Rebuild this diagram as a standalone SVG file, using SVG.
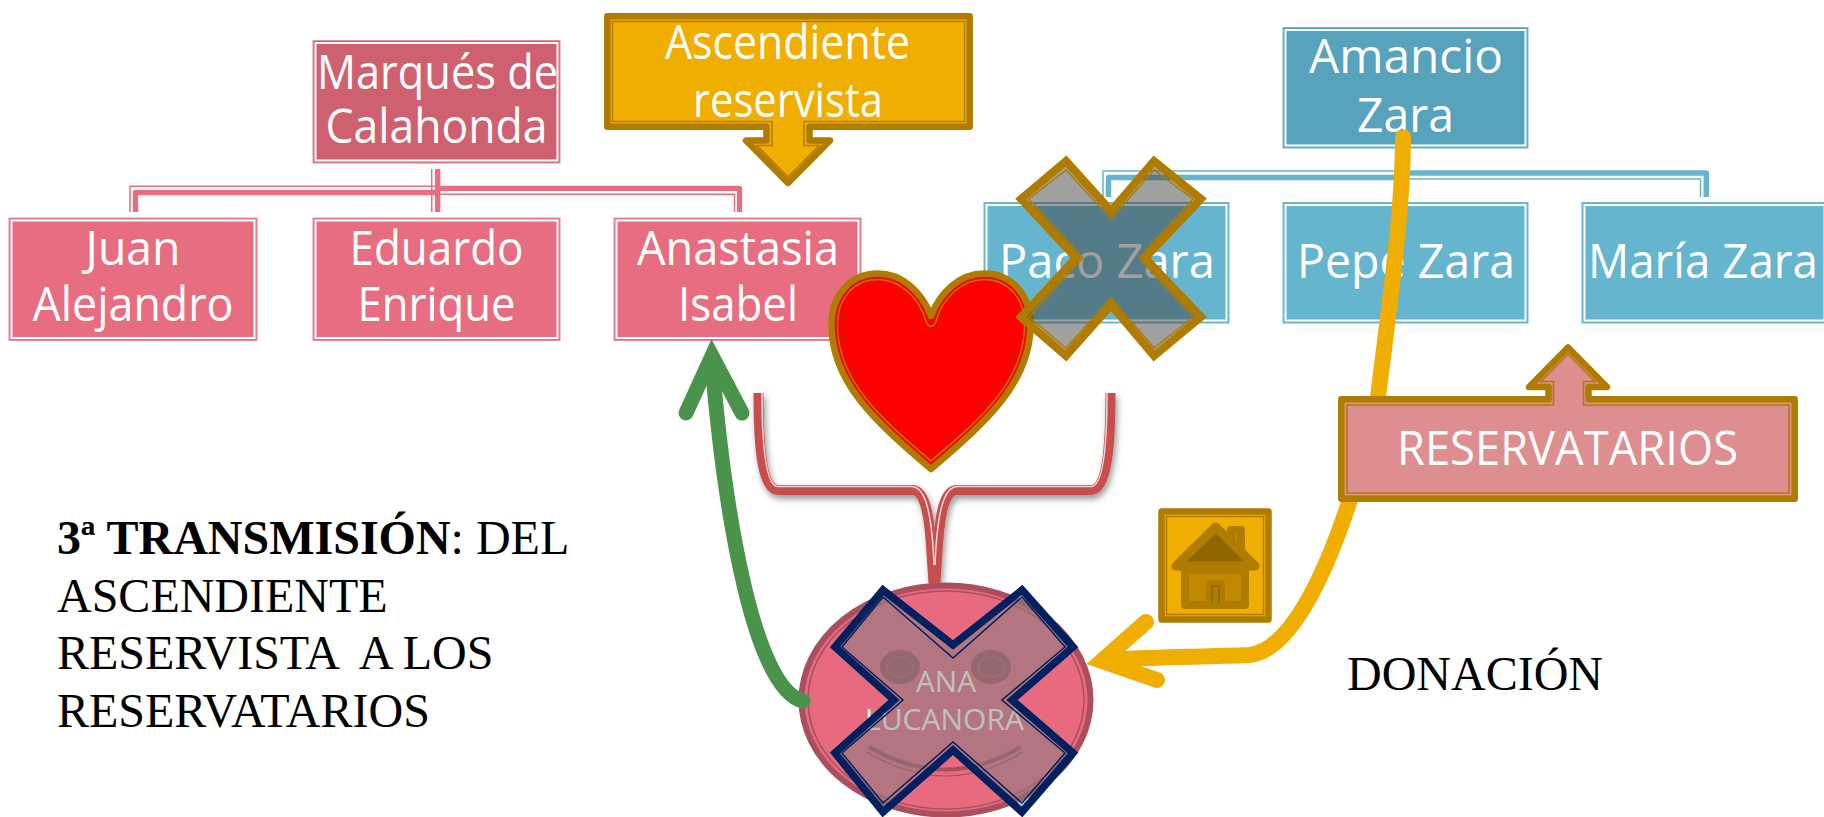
<svg xmlns="http://www.w3.org/2000/svg" width="1824" height="817" viewBox="0 0 1824 817">
<style>
text{font-family:"Open Sans","Noto Sans",sans-serif;fill:#fff;text-anchor:middle;font-size:47px}
.serif{font-family:"Liberation Serif",serif;fill:#000;text-anchor:start;font-size:48px;white-space:pre}
.band{stroke:#b07c00;stroke-width:6.500;stroke-linejoin:round}
.thin{fill:none;stroke:#b07c00;stroke-width:1.500}
.rim{fill:none;stroke:#fff;stroke-width:2}
.pk{fill:#e76d80;stroke:#e98a9a;stroke-width:1}
.bl{fill:#65b5cf;stroke:#6cb7cf;stroke-width:1}
.nv{fill:none;stroke:#00205f}
.line{fill:none;stroke-linecap:round}
</style>
<defs>
<filter id="sh" x="-10%" y="-10%" width="120%" height="130%"><feDropShadow dx="2" dy="4" stdDeviation="3" flood-color="#000" flood-opacity="0.4"/></filter>
</defs>
<rect width="1824" height="817" fill="#fff"/>
<g id="connectors-tree" fill="none" stroke-linejoin="round">
<g stroke="#e76d80">
<path stroke-width="5.300" d="M436,192.500H135.500V212M436,188.300H739.500V212M437.700,169V212"/>
<path stroke-width="1.500" d="M436,186.300H130V212M436,194.300H734.500V212M431.700,169V212"/>
</g>
<g stroke="#65b5cf">
<path stroke-width="5.500" d="M1405,177.500H1108.500V197M1405,173H1706.300V197"/>
<path stroke-width="1.500" d="M1405,171H1103V197M1405,179H1700.500V197"/>
</g>
</g>
<g id="n-marques"><rect class="pk" x="313" y="40.500" width="247" height="122.500" style="fill:#cf6070"/><rect class="rim" x="315.500" y="43" width="242" height="117.500"/><text x="437.500" y="89" textLength="241" lengthAdjust="spacingAndGlyphs">Marqués de</text><text x="436.500" y="143" textLength="222" lengthAdjust="spacingAndGlyphs">Calahonda</text></g>
<g id="n-juan"><rect class="pk" x="9" y="218" width="248" height="122.500"/><rect class="rim" x="11.500" y="220.500" width="243" height="117.500"/><text x="133" y="265" textLength="95" lengthAdjust="spacingAndGlyphs">Juan</text><text x="133" y="321" textLength="201" lengthAdjust="spacingAndGlyphs">Alejandro</text></g>
<g id="n-eduardo"><rect class="pk" x="313" y="218" width="247" height="122.500"/><rect class="rim" x="315.500" y="220.500" width="242" height="117.500"/><text x="436.500" y="265" textLength="174" lengthAdjust="spacingAndGlyphs">Eduardo</text><text x="436.500" y="321" textLength="158" lengthAdjust="spacingAndGlyphs">Enrique</text></g>
<g id="n-anastasia"><rect class="pk" x="614" y="218" width="247" height="122.500"/><rect class="rim" x="616.500" y="220.500" width="242" height="117.500"/><text x="738" y="265" textLength="202" lengthAdjust="spacingAndGlyphs">Anastasia</text><text x="738" y="321" textLength="120" lengthAdjust="spacingAndGlyphs">Isabel</text></g>
<g id="n-amancio"><rect class="bl" x="1283" y="27.500" width="245" height="120.500" style="fill:#57a3bb"/><rect class="rim" x="1285.500" y="30" width="240" height="115.500"/><text x="1406" y="73" textLength="194" lengthAdjust="spacingAndGlyphs">Amancio</text><text x="1405.500" y="132" textLength="97" lengthAdjust="spacingAndGlyphs">Zara</text></g>
<g id="n-paco"><rect class="bl" x="984" y="202.500" width="245" height="120.500"/><rect class="rim" x="986.500" y="205" width="240" height="115.500"/><text x="1107" y="278" textLength="216" lengthAdjust="spacingAndGlyphs">Paco Zara</text></g>
<g id="n-pepe"><rect class="bl" x="1283" y="202.500" width="245" height="120.500"/><rect class="rim" x="1285.500" y="205" width="240" height="115.500"/><text x="1406" y="278" textLength="218" lengthAdjust="spacingAndGlyphs">Pepe Zara</text></g>
<g id="n-maria"><rect class="bl" x="1582" y="202.500" width="245" height="120.500"/><rect class="rim" x="1584.500" y="205" width="240" height="115.500"/><text x="1703" y="278" textLength="230" lengthAdjust="spacingAndGlyphs">María Zara</text></g>
<g id="n-ascendiente">
<path class="band" fill="#f0ae00" d="M607.300,16.300H969.700V126.700H809.500V140.500H830L788,183L746,140.500H766.500V126.700H607.300Z"/>
<path class="thin" d="M612.500,21.500H964.500V121.500H804V145.500H819L788,177L757,145.500H772V121.500H612.500Z"/>
<text x="787.500" y="59" textLength="245" lengthAdjust="spacingAndGlyphs">Ascendiente</text><text x="788" y="117" textLength="190" lengthAdjust="spacingAndGlyphs">reservista</text>
</g>
<g id="connectors-bracket" fill="none">
<g filter="url(#sh)" stroke="#c84d4d" stroke-width="10"><path d="M758.500,393C758.500,440 761,490 778,490H912C925,490 929,515 931,545L933.500,583"/><path d="M1110.500,393C1110.500,440 1108,490 1091,490H957C944,490 940,515 938,545L935.500,583"/></g>
<path d="M762,393C762,440 765,486.500 778,486.500H912C926,487 932,515 934,565" stroke="#f0d8d8" stroke-width="1.500"/>
<path d="M1107,393C1107,440 1104,486.500 1091,486.500H957C943,487 937,515 935,565" stroke="#f0d8d8" stroke-width="1.500"/>
</g>
<g id="n-heart">
<path class="band" fill="#f00" d="M931,469C880,425 831.500,385 831.500,325C831.500,295 850,273.500 878,273.500C902,273.500 922,292 931,316C940,292 960,273.500 984,273.500C1012,273.500 1030.500,295 1030.500,325C1030.500,385 982,425 931,469Z"/>
<path class="thin" d="M931,461C883,420 837.500,382 837.500,325C837.500,298 854,279.500 878,279.500C899,279.500 919,297 926,321C928,328 934,328 936,321C943,297 963,279.500 984,279.500C1008,279.500 1024.500,298 1024.500,325C1024.500,382 979,420 931,461Z"/>
</g>
<g id="n-cross-paco">
<path class="band" fill="#414141" fill-opacity="0.5" style="stroke-linejoin:miter;stroke-width:8px" d="M1066,161L1111,211L1154,161L1201,199L1145,258L1201,317L1154,356L1111,305L1066,356L1021,317L1076,258L1021,199Z"/>
<path class="thin" d="M1066,170L1111,219L1154,170L1193,199L1139,258L1193,317L1154,348L1111,298L1066,348L1029,317L1083,258L1029,199Z"/>
</g>
<g id="connector-orange-line">
<path class="line" stroke="#f0ae00" stroke-width="16" d="M1403,137C1403,210 1390,300 1378,397C1352,510 1305,650 1249,655C1200,657 1150,657 1105,660"/>
</g>
<g id="n-reservatarios">
<path class="band" fill="#de8e8f" d="M1341.300,399.300H1548.500V387H1529L1568,347.500L1607,387H1588.500V399.300H1794.700V498.700H1341.300Z"/>
<path class="thin" d="M1347,405H1553.500V381.500H1541L1568,354L1595,381.500H1583.500V405H1789V493H1347Z"/>
<text x="1567.500" y="465" textLength="341" lengthAdjust="spacingAndGlyphs">RESERVATARIOS</text>
</g>
<g id="n-house">
<rect class="band" fill="#f0ae00" x="1161.500" y="511.500" width="107" height="108"/>
<rect class="thin" x="1166.500" y="516.500" width="97" height="98"/>
<rect x="1231" y="530" width="10" height="28" fill="#c08700" stroke="#b07c00" stroke-width="8" stroke-linejoin="round"/>
<rect x="1185" y="570" width="60" height="35" fill="#c08700" stroke="#b07c00" stroke-width="8" stroke-linejoin="round"/>
<path d="M1215.700,527L1176,566H1255Z" fill="#8f6600" stroke="#b07c00" stroke-width="9" stroke-linejoin="round"/>
<path d="M1210,605V584H1221V605" fill="#b07c00" stroke="#b07c00" stroke-width="8" stroke-linejoin="round"/>
<path d="M1212,603V586H1219V603" fill="none" stroke="#8f6600" stroke-width="1.500"/>
</g>
<g id="n-ana">
<ellipse cx="946" cy="700" rx="144.500" ry="114.500" fill="#e76a7e" stroke="#ab4f5e" stroke-width="6"/>
<ellipse cx="946" cy="700" rx="138" ry="109" fill="none" stroke="#ab4f5e" stroke-width="1.500"/>
<ellipse cx="900" cy="667" rx="20" ry="17" fill="#ab4f5e"/><ellipse cx="991" cy="667" rx="20" ry="17" fill="#ab4f5e"/>
<ellipse cx="900" cy="667" rx="13" ry="10" fill="none" stroke="#bd6270" stroke-width="1.200"/><ellipse cx="991" cy="667" rx="13" ry="10" fill="none" stroke="#bd6270" stroke-width="1.200"/>
<path d="M869,747Q946,792 1021,747" fill="none" stroke="#ab4f5e" stroke-width="4"/>
<path d="M867,752Q946,800 1023,752" fill="none" stroke="#ab4f5e" stroke-width="1.200"/>
<text x="946" y="692" style="font-size:29px" textLength="60" lengthAdjust="spacingAndGlyphs">ANA</text><text x="944.500" y="730" style="font-size:29px" textLength="159" lengthAdjust="spacingAndGlyphs">LUCANORA</text>
</g>
<g id="n-cross-ana">
<path class="nv" style="fill:#7f7f7f;fill-opacity:.5" stroke-width="7.500" stroke-linejoin="miter" d="M883,590L953,645L1022,590L1073,647L1012,700L1073,753L1022,812L953,750L883,812L835,753L894,700L835,647Z"/>
<path class="nv" stroke-width="1.500" d="M883,597L953,658L1022,597L1065,647L1002,700L1065,753L1022,803L953,742L883,803L842,753L903,700L842,647Z"/>
</g>
<g id="connectors-arrows">
<path class="line" stroke="#4a934a" stroke-width="15" d="M803,701C755,690 725,520 712,362"/>
<path class="line" stroke="#4a934a" stroke-width="15" stroke-miterlimit="6" d="M686,413L712,356L742,413"/>
<path class="line" stroke="#f0ae00" stroke-width="16" stroke-miterlimit="6" d="M1146,622L1102,661L1157,680"/>
</g>
<g id="n-titulo">
<text class="serif" x="57" y="554"><tspan font-weight="bold">3ª TRANSMISIÓN</tspan>: DEL</text>
<text class="serif" x="57" y="611.500">ASCENDIENTE</text>
<text class="serif" x="57" y="669">RESERVISTA  A LOS</text>
<text class="serif" x="57" y="726.500">RESERVATARIOS</text>
</g>
<g id="n-donacion"><text class="serif" x="1347" y="690">DONACIÓN</text></g>
</svg>
